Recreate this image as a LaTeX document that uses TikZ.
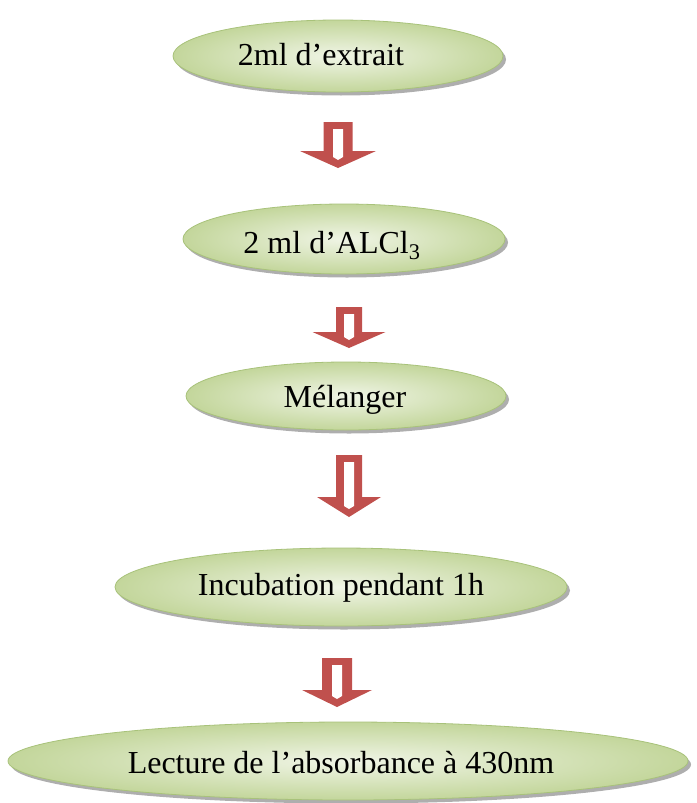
\documentclass[tikz,border=0pt]{standalone}
\usepackage{fontspec}
\setmainfont{Liberation Serif}
\usetikzlibrary{shapes.geometric,shadows}
\definecolor{arrred}{HTML}{C0504D}
\definecolor{ellout}{HTML}{C3D69B}
\definecolor{ellin}{HTML}{F0F5E6}
\definecolor{ellline}{HTML}{A8C27A}
\newcommand\blockarrow[6]{%
  \fill[arrred] ({#1-#5},#2) -- ({#1+#5},#2) -- ({#1+#5},#3) -- ({#1+#6},#3) -- (#1,#4) -- ({#1-#6},#3) -- ({#1-#5},#3) -- cycle;
  \fill[white] ({#1-5},{#2+7}) -- ({#1+5},{#2+7}) -- ({#1+5},{#4-11}) -- (#1,{#4-8}) -- ({#1-5},{#4-11}) -- cycle;}
\begin{document}
\begin{tikzpicture}[x=1pt,y=-1pt,
  ellbox/.style={ellipse, draw=ellline, line width=0.8pt, inner color=ellin, outer color=ellout,
    drop shadow={shadow xshift=3pt, shadow yshift=-3.5pt, fill=black!45, opacity=0.7}, inner sep=0pt},
  txt/.style={anchor=base, inner sep=0pt, font=\fontsize{32}{36}\selectfont}]
\useasboundingbox (0,0) rectangle (696,803);
\node[ellbox, minimum width=330pt, minimum height=72pt] (e1) at (338,56) {};
\node[ellbox, minimum width=322pt, minimum height=70pt] (e2) at (344,239) {};
\node[ellbox, minimum width=320pt, minimum height=68pt] (e3) at (346,396) {};
\node[ellbox, minimum width=452pt, minimum height=78pt] (e4) at (341,587) {};
\node[ellbox, minimum width=680pt, minimum height=78pt] (e5) at (348,761) {};
\node[txt] (t1) at (321,65) {2ml d’extrait};
\node[txt] (t2) at (332,253) {2 ml d’ALCl\textsubscript{3}};
\node[txt] (t3) at (345,407) {Mélanger};
\node[txt] (t4) at (341,595) {Incubation pendant 1h};
\node[txt] (t5) at (341,773) {Lecture de l’absorbance à 430nm};
\blockarrow{338}{122}{151}{168}{14.5}{38}
\blockarrow{349}{307}{332}{348}{13}{36.5}
\blockarrow{349}{455}{497}{517}{13}{32}
\blockarrow{337}{658}{690}{707}{15}{35}
\end{tikzpicture}
\end{document}
